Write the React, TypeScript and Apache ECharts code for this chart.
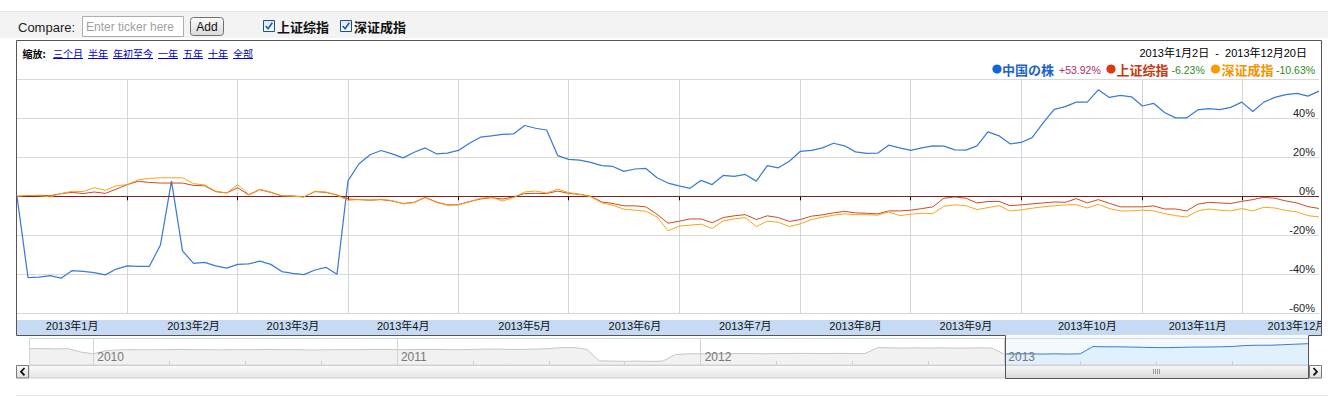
import React, { useEffect, useRef } from "react";
import * as echarts from "echarts";

const SANS = "'Liberation Sans', Arial, 'Noto Sans CJK SC', sans-serif";
const CJK = "'Noto Sans CJK SC', 'Liberation Sans', sans-serif";

// ---- main chart data (percent change since 2013-01-02, sampled every other trading day)
const chinaStock = [
  0, -41.7, -41.4, -40.7, -42.0, -38.1, -38.5, -39.1, -40.3, -37.3,
  -35.7, -35.9, -35.9, -25.0, 7.8, -28.0, -34.4, -33.9, -35.7, -36.8,
  -34.9, -34.7, -33.2, -34.9, -38.6, -39.5, -40.2, -37.8, -36.4, -40.0,
  8.0, 16.7, 21.3, 23.5, 21.8, 19.7, 22.6, 24.8, 21.8, 22.1,
  23.5, 27.2, 30.3, 31.0, 31.8, 32.0, 36.3, 34.9, 34.0, 20.9,
  18.9, 18.6, 17.4, 15.7, 15.3, 12.8, 14.0, 14.3, 9.5, 6.8,
  5.4, 4.1, 8.2, 6.0, 10.7, 10.2, 11.2, 7.8, 15.7, 14.6,
  18.0, 23.1, 23.5, 24.8, 27.2, 25.9, 22.8, 22.0, 22.1, 26.2,
  24.8, 23.5, 24.8, 25.9, 25.7, 23.8, 23.7, 25.9, 33.0, 31.0,
  26.9, 27.6, 30.1, 37.6, 44.6, 46.0, 48.3, 48.3, 54.6, 50.7,
  51.7, 51.0, 46.3, 47.7, 43.0, 40.2, 40.2, 44.3, 44.9, 44.4,
  45.6, 48.3, 43.5, 48.3, 50.7, 52.1, 52.8, 51.4, 53.92,
];
const shanghaiComposite = [
  0, 0.3, 0.5, 0.3, 1.4, 2.0, 1.4, 2.2, 1.5, 3.7,
  6.0, 7.7, 7.1, 6.8, 6.8, 6.8, 5.6, 5.4, 2.4, 1.7,
  4.4, 0.7, 3.4, 2.0, 0.2, 0.2, -0.3, 2.4, 2.0, 0.7,
  -1.4, -1.7, -2.0, -1.7, -2.4, -3.7, -3.1, -0.5, -2.9, -4.4,
  -4.3, -2.7, -1.4, -0.7, -1.4, -0.3, 1.4, 1.5, 1.4, 2.7,
  1.5, 1.0, 0, -2.9, -3.7, -4.9, -4.9, -5.4, -9.2, -13.8,
  -12.8, -11.6, -11.6, -13.6, -10.9, -10.0, -9.4, -11.9, -10.0, -10.9,
  -12.9, -11.9, -10.2, -9.5, -8.5, -7.7, -8.5, -8.7, -9.0, -7.5,
  -7.5, -7.1, -6.3, -5.4, -1.0, -0.3, -1.0, -3.4, -2.7, -2.6,
  -4.8, -4.4, -3.9, -3.4, -2.9, -3.1, -1.2, -3.4, -1.7, -3.6,
  -5.4, -5.4, -5.4, -4.9, -6.5, -6.5, -7.5, -4.1, -3.1, -3.4,
  -3.7, -2.6, -1.7, -0.5, -1.0, -2.4, -3.4, -5.3, -6.23,
];
const shenzhenComponent = [
  0, 0.5, 0.3, -0.3, 1.4, 2.6, 2.4, 4.4, 3.1, 5.4,
  6.0, 8.5, 9.2, 9.5, 9.5, 9.5, 6.5, 5.8, 2.7, 1.7,
  6.0, 0.9, 3.6, 2.2, 0.3, 0, -0.3, 2.6, 2.2, 0.5,
  -2.0, -1.7, -1.9, -1.5, -2.2, -3.9, -3.2, -0.7, -3.1, -4.6,
  -4.4, -2.9, -1.0, -0.5, -2.4, -0.7, 2.2, 2.7, 1.7, 3.7,
  1.9, 1.0, -0.2, -3.4, -4.6, -6.6, -7.1, -7.7, -10.6, -17.7,
  -15.3, -14.8, -14.3, -16.5, -12.6, -11.6, -10.9, -15.5, -12.8, -13.3,
  -15.5, -14.1, -11.9, -10.7, -9.7, -9.0, -9.4, -9.4, -9.7, -8.0,
  -9.9, -9.2, -8.7, -8.9, -5.1, -4.4, -4.8, -6.8, -5.8, -4.8,
  -7.5, -7.0, -6.1, -5.4, -4.9, -4.4, -4.3, -6.0, -4.1, -6.3,
  -7.5, -7.5, -7.1, -7.5, -8.9, -9.9, -10.6, -7.5, -6.5, -7.1,
  -7.5, -6.3, -7.5, -5.6, -6.0, -7.3, -8.0, -9.9, -10.63,
];

const seriesNames = ["中国の株", "上证综指", "深证成指"];
const seriesChanges = ["+53.92%", "-6.23%", "-10.63%"];
const compareChecks = ["上证综指", "深证成指"];
const zoomLinks = ["三个月", "半年", "年初至今", "一年", "五年", "十年", "全部"];
const dateRange = "2013年1月2日  -  2013年12月20日";

// sample index where each month starts, and where its label sits
const monthStarts = [10, 20, 30, 40, 50, 60, 71, 81, 91, 102, 111];
const monthLabelAt = [5, 16, 25, 35, 46, 56, 66, 76, 86, 97, 107, 116];
const monthLabels = [
  "2013年1月", "2013年2月", "2013年3月", "2013年4月", "2013年5月", "2013年6月",
  "2013年7月", "2013年8月", "2013年9月", "2013年10月", "2013年11月", "2013年12月",
];
const yMin = -60, yMax = 60, yStep = 20;

// ---- navigator (half-month samples, Oct 2009 – Dec 2013, relative level 0-100)
const navHistory = [
  63, 63, 62, 63, 50, 43, 55, 58,
  59, 58, 59, 59, 60, 59, 59, 58, 59, 59, 59, 60, 59, 59, 58, 58, 59, 59, 59, 60,
  60, 59, 59, 60, 60, 59, 59, 60, 61, 61, 60, 60, 61,
  63, 67, 67, 60, 16, 15, 14, 15, 14, 15, 40,
  43, 43, 44, 43, 44, 44, 43, 44, 44, 45, 44, 44, 45, 44, 44,
  67, 66, 65, 66, 65, 66, 65, 65, 66, 65, 42,
];
const navCurrent = [
  42, 43, 43, 42, 43, 42, 43, 71, 70, 70, 69, 68, 67, 67, 68, 69, 69, 70, 71,
  75, 76, 76, 78, 80, 82,
];
const navYearAt = [5, 29, 53, 77];
const navYears = ["2010", "2011", "2012", "2013"];
const navQuarterAt = [11, 17, 23, 35, 41, 47, 59, 65, 71, 83, 89, 95];

const COLORS = {
  blue: "#3b7bd4",
  red: "#cf4a1f",
  orange: "#f8a31c",
  dot: ["#0f68d8", "#dc3912", "#ff9900"],
  name: ["#1a64c8", "#c8380f", "#f29400"],
  pct: ["#a82c6a", "#2b8a2b", "#2b8a2b"],
};

function grad(c1: string, c2: string) {
  return new echarts.graphic.LinearGradient(0, 0, 0, 1, [
    { offset: 0, color: c1 },
    { offset: 1, color: c2 },
  ]);
}

function buildGraphics() {
  const g: any[] = [];
  const txt = (x: number, y: number, text: string, st: any, z = 5) =>
    g.push({ type: "text", x, y, z, style: { text, verticalAlign: "middle", align: "left", ...st } });
  const rect = (x: number, y: number, w: number, h: number, st: any, z = 5, r = 0) =>
    g.push({ type: "rect", z, shape: { x, y, width: w, height: h, r }, style: st });
  const line = (x1: number, y1: number, x2: number, y2: number, stroke: string, z = 5, lw = 1) =>
    g.push({ type: "line", z, shape: { x1, y1, x2, y2 }, style: { stroke, lineWidth: lw } });

  // top compare bar
  rect(0, 11, 1328, 27, { fill: "#f3f3f3" }, -5);
  line(0, 11.5, 1328, 11.5, "#e4e4e4", -4);
  txt(18, 27, "Compare:", { fill: "#222", fontSize: 13, fontFamily: SANS });
  rect(82.5, 16.5, 101, 20, { fill: "#fff", stroke: "#abadb3", lineWidth: 1 });
  txt(86, 27, "Enter ticker here", { fill: "#a0a0a0", fontSize: 12, fontFamily: SANS });
  rect(190.5, 17.5, 33, 18, { fill: grad("#fbfbfb", "#dadada"), stroke: "#707070", lineWidth: 1 }, 5, 3);
  txt(207, 27, "Add", { fill: "#111", fontSize: 12, fontFamily: SANS, align: "center" });
  const checkX = [263.5, 340.5];
  compareChecks.forEach((label, i) => {
    const x = checkX[i];
    rect(x, 20.5, 11, 11, { fill: grad("#dde6f2", "#f9fbfe"), stroke: "#1c5180", lineWidth: 1 });
    g.push({
      type: "polyline", z: 6,
      shape: { points: [[x + 2.2, 26], [x + 4.6, 28.8], [x + 8.8, 22.8]] },
      style: { stroke: "#2356b0", lineWidth: 1.6, fill: "none" },
    });
    txt(x + 13.5, 26.5, label, { fill: "#111", fontSize: 13, fontWeight: "bold", fontFamily: CJK });
  });

  // chart header
  txt(22.5, 53, "缩放:", { fill: "#000", fontSize: 10, fontWeight: "bold", fontFamily: CJK });
  let lx = 53;
  zoomLinks.forEach((l) => {
    const w = l.length * 10;
    txt(lx, 53, l, { fill: "#0000cc", fontSize: 10, fontFamily: CJK });
    line(lx, 58.5, lx + w, 58.5, "#0000cc");
    lx += w + 5;
  });
  txt(1307, 53, dateRange, { fill: "#000", fontSize: 11, fontFamily: SANS, align: "right" });

  // legend
  const dotX = [997, 1111, 1215.5];
  const nameX = [1002, 1116.5, 1221.5];
  const pctX = [1059, 1171.5, 1276];
  seriesNames.forEach((n, i) => {
    g.push({ type: "circle", z: 5, shape: { cx: dotX[i], cy: 69, r: 4.6 }, style: { fill: COLORS.dot[i] } });
    txt(nameX[i], 69, n, { fill: COLORS.name[i], fontSize: 13, fontWeight: "bold", fontFamily: CJK });
    txt(pctX[i], 69.5, seriesChanges[i], { fill: COLORS.pct[i], fontSize: 10.5, fontFamily: SANS });
  });

  // month band under the plot
  rect(17, 320, 1304.5, 15, { fill: "#c6dbf3" }, -1);
  // selected window background in navigator
  rect(1006, 336, 302, 29, { fill: "#f4f9fe" }, -1);
  // mask overflow of last month label
  rect(1322, 314, 6, 22, { fill: "#fff" }, 20);

  // navigator frame
  rect(29.5, 338.5, 1279, 26.5, { fill: "none", stroke: "#d5d5d5", lineWidth: 1 }, 3);

  // scrollbar
  rect(29, 365.5, 1279, 12.5, { fill: grad("#fbfbfb", "#e4e4e4"), stroke: "#cfcfcf", lineWidth: 1 }, 4);
  rect(16.5, 365.5, 12, 12.5, { fill: grad("#fbfbfb", "#dedede"), stroke: "#7a7a7a", lineWidth: 1 }, 4);
  rect(1309.5, 365.5, 12, 12.5, { fill: grad("#fbfbfb", "#dedede"), stroke: "#7a7a7a", lineWidth: 1 }, 4);
  g.push({ type: "polyline", z: 6, shape: { points: [[24.5, 368], [21, 371.7], [24.5, 375.4]] }, style: { stroke: "#111", lineWidth: 1.8, fill: "none" } });
  g.push({ type: "polyline", z: 6, shape: { points: [[1313.5, 368], [1317, 371.7], [1313.5, 375.4]] }, style: { stroke: "#111", lineWidth: 1.8, fill: "none" } });
  rect(1006, 366, 302, 12, { fill: grad("#f6f6f6", "#d9d9d9") }, 5);
  [1153.5, 1155.5, 1157.5, 1159.5].forEach((x) => line(x, 369, x, 374, "#9a9a9a", 6));

  // chart frame and selection window
  const frame = "#555";
  g.push({ type: "polyline", z: 21, shape: { points: [[16.5, 335.5], [16.5, 40.5], [1321.5, 40.5], [1321.5, 335.5]] }, style: { stroke: frame, lineWidth: 1, fill: "none" } });
  line(16.5, 335.5, 1005.5, 335.5, frame, 21);
  line(1308.5, 335.5, 1321.5, 335.5, frame, 21);
  g.push({ type: "polyline", z: 21, shape: { points: [[1005.5, 335.5], [1005.5, 378.5], [1308.5, 378.5], [1308.5, 335.5]] }, style: { stroke: frame, lineWidth: 1, fill: "none" } });

  // bottom divider
  line(16, 395.5, 1328, 395.5, "#e2e2e2", 2);
  return g;
}

function buildOption() {
  const cats = chinaStock.map((_, i) => String(i));
  const navLen = navHistory.length + navCurrent.length - 1;
  const navCats = Array.from({ length: navLen }, (_, i) => String(i));
  const navHistData = navHistory.concat(Array(navLen - navHistory.length).fill(null));
  const navCurData = Array(navLen - navCurrent.length).fill(null).concat(navCurrent);

  return {
    animation: false,
    backgroundColor: "#fff",
    textStyle: { fontFamily: SANS },
    grid: [
      { left: 17, top: 79.3, width: 1302, height: 234, containLabel: false, outerBoundsMode: "none" },
      { left: 30, top: 339, width: 1278, height: 26, containLabel: false, outerBoundsMode: "none" },
    ],
    xAxis: [
      {
        type: "category", gridIndex: 0, data: cats, boundaryGap: false, offset: 2,
        axisLine: { show: false },
        axisTick: { show: true, length: 4, interval: (i: number) => monthStarts.includes(i), lineStyle: { color: "#000" } },
        axisLabel: {
          show: true, margin: 5, fontSize: 11, color: "#111", fontFamily: SANS,
          interval: (i: number) => monthLabelAt.includes(i),
          formatter: (_v: string, i: number) => monthLabels[monthLabelAt.indexOf(i)] ?? "",
        },
        splitLine: { show: true, interval: (i: number) => monthStarts.includes(i), lineStyle: { color: "#d3d4dc", width: 1 } },
      },
      {
        type: "category", gridIndex: 1, data: navCats, boundaryGap: false, z: 6,
        axisLine: { show: false },
        axisTick: { show: true, inside: true, length: 4, interval: (i: number) => navQuarterAt.includes(i), lineStyle: { color: "#cfcfcf" } },
        axisLabel: {
          show: true, inside: true, margin: 2, align: "left", padding: [0, 0, 0, 4],
          fontSize: 12, color: "#777", fontFamily: SANS,
          interval: (i: number) => navYearAt.includes(i),
          formatter: (_v: string, i: number) => navYears[navYearAt.indexOf(i)] ?? "",
        },
        splitLine: { show: true, interval: (i: number) => navYearAt.includes(i), lineStyle: { color: "#d2d2d2" } },
      },
    ],
    yAxis: [
      {
        type: "value", gridIndex: 0, min: yMin, max: yMax, interval: yStep, position: "right",
        axisLine: { show: false }, axisTick: { show: false },
        axisLabel: {
          inside: true, margin: 4, formatter: "{value}%", showMaxLabel: false,
          verticalAlign: "bottom", lineHeight: 10, fontSize: 11, color: "#222", fontFamily: SANS,
        },
        splitLine: { show: true, lineStyle: { color: "#d9d9d9", width: 1 } },
      },
      { type: "value", gridIndex: 1, min: 0, max: 100, show: false },
    ],
    series: [
      {
        type: "line", name: seriesNames[0], xAxisIndex: 0, yAxisIndex: 0, data: chinaStock,
        symbol: "none", z: 3, lineStyle: { color: COLORS.blue, width: 1.25 }, silent: true,
        markLine: {
          silent: true, symbol: ["none", "none"], label: { show: false },
          lineStyle: { color: "#7b2121", width: 1, type: "solid" },
          emphasis: { disabled: true },
          data: [{ yAxis: 0 }],
        },
      },
      {
        type: "line", name: seriesNames[1], xAxisIndex: 0, yAxisIndex: 0, data: shanghaiComposite,
        symbol: "none", z: 4, lineStyle: { color: COLORS.red, width: 1 }, silent: true,
      },
      {
        type: "line", name: seriesNames[2], xAxisIndex: 0, yAxisIndex: 0, data: shenzhenComponent,
        symbol: "none", z: 5, lineStyle: { color: COLORS.orange, width: 1 }, silent: true,
      },
      {
        type: "line", xAxisIndex: 1, yAxisIndex: 1, data: navHistData, symbol: "none", silent: true,
        lineStyle: { color: "#c6c6c6", width: 1 }, areaStyle: { color: "#f1f1f1", opacity: 1 }, z: 2,
      },
      {
        type: "line", xAxisIndex: 1, yAxisIndex: 1, data: navCurData, symbol: "none", silent: true,
        lineStyle: { color: COLORS.blue, width: 1 }, areaStyle: { color: "#e0f0fc", opacity: 1 }, z: 2,
      },
    ],
    graphic: buildGraphics(),
  };
}

export default function App() {
  const ref = useRef<HTMLDivElement>(null);
  useEffect(() => {
    if (!ref.current) return;
    const chart = echarts.init(ref.current, undefined, { renderer: "svg" });
    chart.setOption(buildOption() as any);
    return () => chart.dispose();
  }, []);
  return (
    <div
      ref={ref}
      style={{ position: "fixed", left: 0, top: 0, width: 1328, height: 396, background: "#fff" }}
    />
  );
}
